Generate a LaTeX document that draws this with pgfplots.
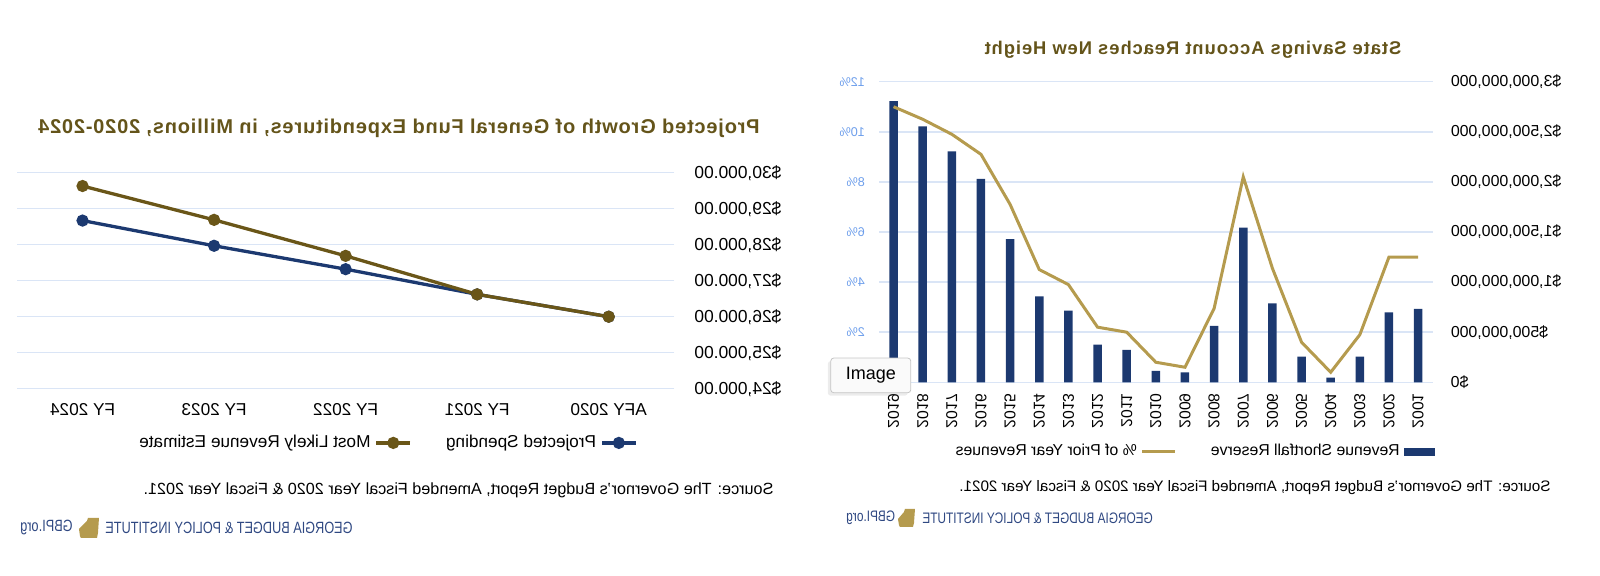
\documentclass[border=0pt]{standalone}
\usepackage{graphicx}
\usepackage{fontspec}
\setmainfont{Liberation Sans}
\newfontfamily\logofont[FakeStretch=0.78]{Liberation Sans}
\newfontfamily\titlefontA[LetterSpace=4]{Liberation Sans}
\newfontfamily\titlefontB[LetterSpace=5]{Liberation Sans}
\usepackage{pgfplots}
\pgfplotsset{compat=1.18}
\usetikzlibrary{shadows}

\definecolor{navy}{RGB}{28,57,112}
\definecolor{olive}{RGB}{106,86,24}
\definecolor{gold}{RGB}{181,155,78}
\definecolor{titlecol}{RGB}{100,84,26}
\definecolor{gridblue}{RGB}{218,229,246}
\definecolor{pctblue}{RGB}{109,158,235}
\definecolor{logoblue}{RGB}{47,72,130}

% the whole reference is mirrored left-right, so the picture is drawn
% the normal way round and flipped as a whole
\begin{document}
\reflectbox{%
\begin{tikzpicture}[x=0.5pt,y=0.5pt]
\path[use as bounding box] (0,0) rectangle (1600,576);

%% ---------- State Savings Account (left before the flip) ----------
\node[font=\titlefontB\bfseries\fontsize{9.2}{11}\selectfont, text=titlecol] at (407,526)
  {State Savings Account Reaches New Height};

\begin{axis}[
  at={(83.65pt,96.85pt)}, anchor=south west,
  scale only axis, width=276.85pt, height=150.3pt,
  xmin=-0.5, xmax=18.5, ymin=0, ymax=3000,
  xtick={0,...,18},
  xticklabels={2001,2002,2003,2004,2005,2006,2007,2008,2009,2010,
               2011,2012,2013,2014,2015,2016,2017,2018,2019},
  ytick={0,500,...,3000},
  yticklabels={{\$0},{\$500,000,000},{\$1,000,000,000},{\$1,500,000,000},
               {\$2,000,000,000},{\$2,500,000,000},{\$3,000,000,000}},
  scaled y ticks=false,
  ymajorgrids, grid style={gridblue, line width=0.75pt},
  axis line style={draw=none}, major tick style={draw=none},
  yticklabel style={font=\fontsize{7.95}{9}\selectfont, anchor=east,
                    inner sep=0pt, xshift=-8.9pt},
  xticklabel style={font=\fontsize{7.85}{9}\selectfont, yshift=-5.35pt,
                    rotate=90, anchor=east, inner sep=0pt},
]
\addplot[ybar, bar width=4.25pt, fill=navy, draw=none] coordinates {
  (0,732) (1,698) (2,256) (3,47) (4,256) (5,788) (6,1543) (7,562)
  (8,100) (9,113) (10,323) (11,376) (12,715) (13,858) (14,1430)
  (15,2029) (16,2305) (17,2554) (18,2807)
};
\end{axis}

\begin{axis}[
  at={(83.65pt,96.85pt)}, anchor=south west,
  scale only axis, width=276.85pt, height=150.3pt,
  xmin=-0.5, xmax=18.5, ymin=0, ymax=12,
  xtick=\empty,
  ytick={0,2,...,12}, yticklabel pos=right,
  yticklabels={0\%,2\%,4\%,6\%,8\%,10\%,12\%},
  axis line style={draw=none}, major tick style={draw=none},
  yticklabel style={font=\fontsize{6.35}{8}\selectfont, text=pctblue,
                    anchor=west, inner sep=0pt, xshift=6.85pt},
  legend style={at={(-0.004,-0.231)}, anchor=west, draw=none, fill=none,
    inner sep=0pt, font=\fontsize{7.9}{9}\selectfont, legend columns=2,
    /tikz/every even column/.append style={column sep=15pt}},
]
\addlegendimage{legend image code/.code={
  \fill[navy] (0pt,-1.7pt) rectangle (15pt,1.7pt);}}
\addlegendentry{Revenue Shortfall Reserve}
\addplot[gold, line width=1.5pt,
  legend image code/.code={\draw[gold, line width=1.5pt] (0pt,0pt) -- (16.5pt,0pt);}]
  coordinates {
  (0,5.0) (1,5.0) (2,1.9) (3,0.4) (4,1.6) (5,4.55) (6,8.2) (7,2.95)
  (8,0.6) (9,0.8) (10,2.0) (11,2.2) (12,3.9) (13,4.5) (14,7.1)
  (15,9.1) (16,9.9) (17,10.5) (18,11.0)
};
\addlegendentry{\% of Prior Year Revenues}
\end{axis}

\node[anchor=west, font=\fontsize{7.6}{9}\selectfont] at (42.4,88)
  {Source: The Governor's Budget Report, Amended Fiscal Year 2020 \& Fiscal Year 2021.};
\node[anchor=east, inner sep=0pt, text=logoblue, font=\logofont\fontsize{7.6}{9}\selectfont]
  at (678,58) {GEORGIA BUDGET \& POLICY INSTITUTE};
\fill[gold] (685,67) -- (695,67) -- (696,64) -- (702,57) -- (701,51) -- (700,49)
  -- (687,49) -- (686,53) -- cycle;
\node[anchor=east, inner sep=0pt, text=logoblue, font=\logofont\fontsize{7.6}{9}\selectfont]
  at (754,58) {GBPI.org};

% the "Image" tooltip sits over the chart, its text reads the right way
\node[draw=gray!45, fill=gray!4, rounded corners=1.5pt, minimum width=40pt,
  minimum height=17.35pt, inner sep=0pt,
  drop shadow={shadow xshift=1.5pt, shadow yshift=-1.5pt, opacity=0.15},
  font=\fontsize{9}{10}\selectfont] at (729.2,200.6) {\reflectbox{Image}};

%% ---------- Projected Growth (right before the flip) ----------
\node[font=\titlefontA\bfseries\fontsize{10}{12}\selectfont, text=titlecol] at (1201,448)
  {Projected Growth of General Fund Expenditures, in Millions, 2020-2024};

\begin{axis}[
  at={(462.75pt,93.65pt)}, anchor=south west,
  scale only axis, width=328.85pt, height=108pt,
  xmin=-0.5, xmax=4.5, ymin=24000, ymax=30000,
  xtick={0,...,4},
  xticklabels={AFY 2020,FY 2021,FY 2022,FY 2023,FY 2024},
  ytick={24000,25000,...,30000},
  yticklabels={{\$24,000.00},{\$25,000.00},{\$26,000.00},{\$27,000.00},
               {\$28,000.00},{\$29,000.00},{\$30,000.00}},
  scaled y ticks=false,
  ymajorgrids, grid style={gridblue, line width=0.75pt},
  axis line style={draw=none}, major tick style={draw=none},
  yticklabel style={font=\fontsize{8.7}{10}\selectfont, anchor=east,
                    inner sep=0pt, xshift=-9.75pt},
  xticklabel style={font=\fontsize{8.6}{10}\selectfont, anchor=north,
                    inner sep=0pt, yshift=-7pt},
  clip=false,
  legend style={at={(0.0555,-0.251)}, anchor=west, draw=none, fill=none,
    inner sep=0pt, font=\fontsize{8.6}{10}\selectfont, legend columns=2,
    /tikz/every even column/.append style={column sep=15pt}},
]
\addplot[navy, line width=1.65pt, mark=*, mark size=2.2pt,
  mark options={fill=navy}] coordinates {
  (0,26000) (1,26620) (2,27320) (3,27970) (4,28670)
};
\addlegendentry{Projected Spending}
\addplot[olive, line width=1.65pt, mark=*, mark size=2.2pt,
  mark options={fill=olive}] coordinates {
  (0,26000) (1,26620) (2,27690) (3,28690) (4,29630)
};
\addlegendentry{Most Likely Revenue Estimate}
\end{axis}

\node[anchor=west, font=\fontsize{8.1}{10}\selectfont] at (819.4,86)
  {Source: The Governor's Budget Report, Amended Fiscal Year 2020 \& Fiscal Year 2021.};
\node[anchor=east, inner sep=0pt, text=logoblue, font=\logofont\fontsize{8.15}{10}\selectfont]
  at (1495,48) {GEORGIA BUDGET \& POLICY INSTITUTE};
\fill[gold] (1501,58) -- (1512,58) -- (1513,55) -- (1521,47) -- (1520,40) -- (1519,38)
  -- (1503,38) -- (1502,43) -- cycle;
\node[anchor=east, inner sep=0pt, text=logoblue, font=\logofont\fontsize{8.15}{10}\selectfont]
  at (1580,48) {GBPI.org};
\end{tikzpicture}%
}
\end{document}
